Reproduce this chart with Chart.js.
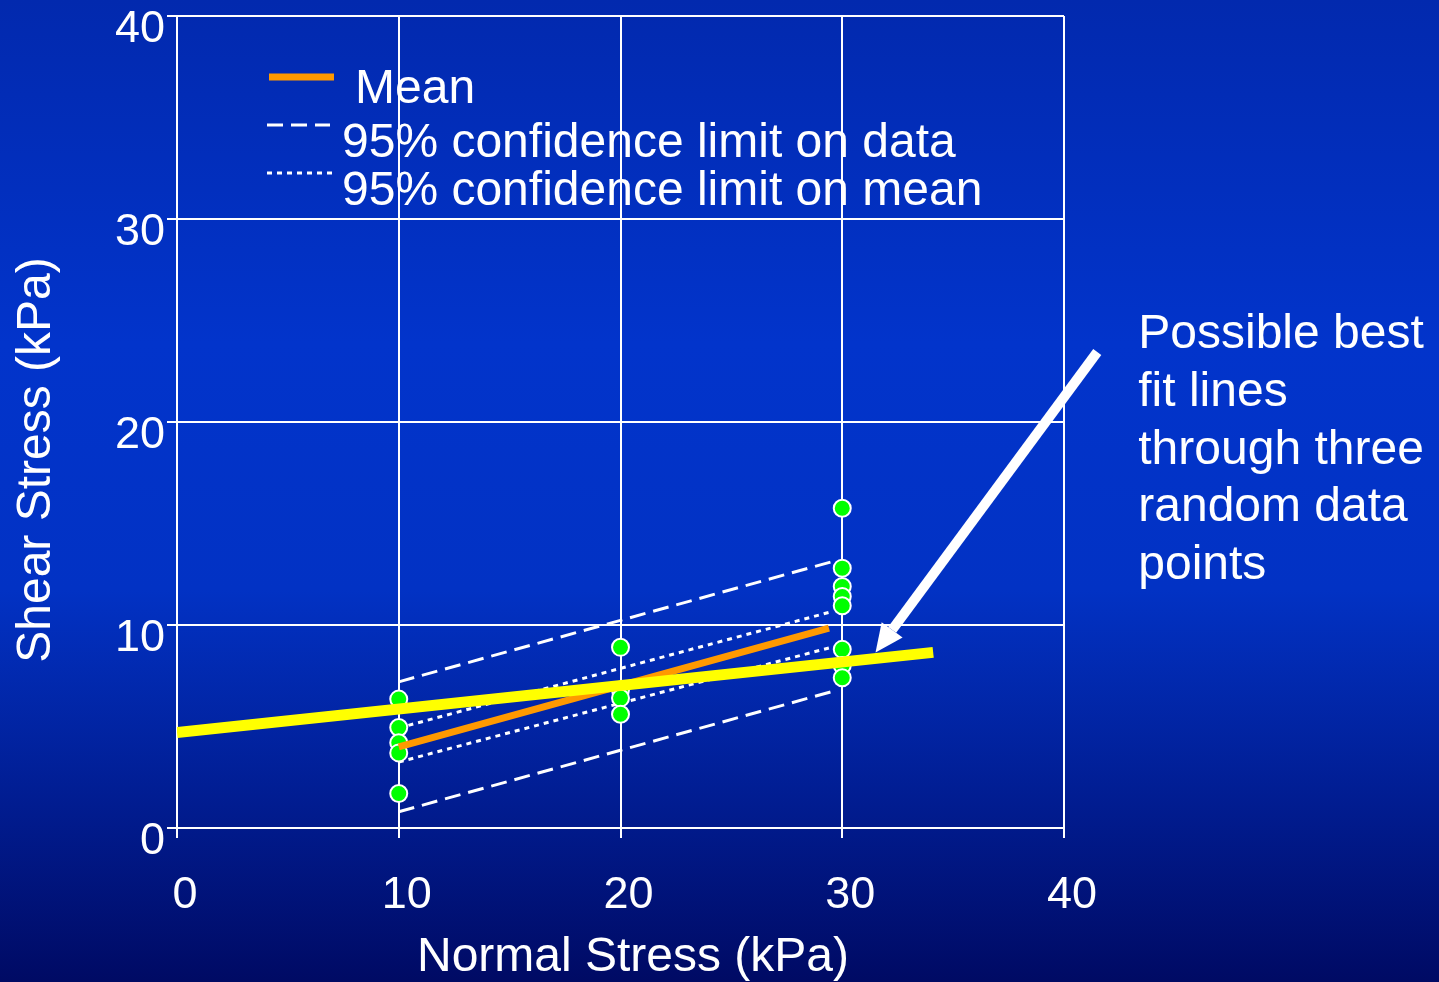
<!DOCTYPE html>
<html lang="en">
<head>
<meta charset="UTF-8"/>
<title>Shear Stress vs Normal Stress</title>
<style>
    html, body {
        margin: 0;
        padding: 0;
        width: 100%;
        height: 100%;
        overflow: hidden;
        background: #0230c0;
    }

    #wrap {
        position: relative;
        width: 1439px;
        height: 982px;
    }
</style>
<script src="https://cdn.jsdelivr.net/npm/chart.js@4/dist/chart.umd.min.js"></script>
</head>
<body>
<div id="wrap"><canvas id="chart"></canvas></div>
<script>
    const FONT = "'Liberation Sans', Arial, Helvetica, sans-serif";

    // Axes
    const xTicks = [0, 10, 20, 30, 40];
    const yTicks = [0, 10, 20, 30, 40];
    const xTitle = 'Normal Stress (kPa)';
    const yTitle = 'Shear Stress (kPa)';

    // Shear test results at each normal stress (kPa)
    const shearAt10 = [6.35, 4.95, 4.2, 3.7, 1.7];
    const shearAt20 = [8.9, 6.8, 6.4, 5.6];
    const shearAt30 = [15.75, 12.8, 11.9, 11.4, 10.95, 8.8, 8.0, 7.4];

    // Mean line
    const meanX = [10, 29.4];
    const meanY = [4.0, 9.85];

    // 95% confidence limit on data (dashed)
    const dataCiX = [10, 29.8];
    const dataUpperY = [7.2, 13.2];
    const dataLowerY = [0.8, 6.8];

    // 95% confidence limit on mean (dotted)
    const meanCiX = [10, 29.5];
    const meanUpperY = [4.93, 10.65];
    const meanLowerY = [3.25, 8.9];

    // One possible best fit line (yellow)
    const fitX = [0, 34.1];
    const fitY = [4.7, 8.65];

    const legendLabels = ['Mean', '95% confidence limit on data', '95% confidence limit on mean'];
    const noteLines = ['Possible best', 'fit lines', 'through three', 'random data', 'points'];
    const arrowFrom = [41.5, 23.45];
    const arrowTo = [31.5, 8.65];

    const toPts = (xs, ys) => xs.map((x, i) => ({x, y: ys[i]}));

    const scatterPts = [
        ...shearAt10.map(y => ({x: 10, y})),
        ...shearAt20.map(y => ({x: 20, y})),
        ...shearAt30.map(y => ({x: 30, y}))
    ];

    function lineSet(label, pts, color, width, dash, order) {
        return {
            type: 'line',
            label,
            data: pts,
            borderColor: color,
            borderWidth: width,
            borderDash: dash,
            borderCapStyle: 'butt',
            pointRadius: 0,
            fill: false,
            tension: 0,
            order
        };
    }

    // Background gradient
    const bgPlugin = {
        id: 'bg',
        beforeDraw(chart) {
            const {ctx, width, height} = chart;
            const g = ctx.createLinearGradient(0, 0, 0, height);
            g.addColorStop(0, '#0229ae');
            g.addColorStop(0.35, '#0234cb');
            g.addColorStop(0.6, '#0232c4');
            g.addColorStop(0.82, '#011c90');
            g.addColorStop(1, '#000a64');
            ctx.save();
            ctx.fillStyle = g;
            ctx.fillRect(0, 0, width, height);
            ctx.restore();
        }
    };

    // Legend inside plot, axis titles, note and arrow
    const decorPlugin = {
        id: 'decor',
        afterDraw(chart) {
            const {ctx, chartArea: a, scales: {x, y}} = chart;
            ctx.save();
            ctx.fillStyle = '#fff';

            // axis titles
            ctx.font = '48px ' + FONT;
            ctx.textAlign = 'center';
            ctx.textBaseline = 'middle';
            ctx.fillText(xTitle, 633, 958);
            ctx.save();
            ctx.translate(37, 460);
            ctx.rotate(-Math.PI / 2);
            ctx.fillText(yTitle, 0, 0);
            ctx.restore();

            // legend
            const rows = [
                {ds: 1, y: a.top + 61, x0: a.left + 92, x1: a.left + 157, tx: a.left + 178, ty: a.top + 87},
                {ds: 3, y: a.top + 109, x0: a.left + 90, x1: a.left + 153, tx: a.left + 165, ty: a.top + 141},
                {ds: 5, y: a.top + 157, x0: a.left + 90, x1: a.left + 158, tx: a.left + 165, ty: a.top + 189}
            ];
            ctx.textAlign = 'left';
            ctx.textBaseline = 'alphabetic';
            ctx.font = '48px ' + FONT;
            rows.forEach((r, i) => {
                const ds = chart.data.datasets[r.ds];
                ctx.save();
                ctx.strokeStyle = ds.borderColor;
                ctx.lineWidth = ds.borderWidth;
                ctx.setLineDash(ds.borderDash || []);
                ctx.beginPath();
                ctx.moveTo(r.x0, r.y);
                ctx.lineTo(r.x1, r.y);
                ctx.stroke();
                ctx.restore();
                ctx.fillText(legendLabels[i], r.tx, r.ty);
            });

            // note
            ctx.font = '48px ' + FONT;
            const nx = x.getPixelForValue(43.35);
            noteLines.forEach((t, i) => ctx.fillText(t, nx, 348 + i * 57.8));

            // arrow
            const x0 = x.getPixelForValue(arrowFrom[0]), y0 = y.getPixelForValue(arrowFrom[1]);
            const x1 = x.getPixelForValue(arrowTo[0]), y1 = y.getPixelForValue(arrowTo[1]);
            const ang = Math.atan2(y1 - y0, x1 - x0);
            const headLen = 28, headW = 13;
            const bx = x1 - headLen * Math.cos(ang), by = y1 - headLen * Math.sin(ang);
            ctx.strokeStyle = '#fff';
            ctx.lineWidth = 10;
            ctx.beginPath();
            ctx.moveTo(x0, y0);
            ctx.lineTo(bx, by);
            ctx.stroke();
            ctx.beginPath();
            ctx.moveTo(x1, y1);
            ctx.lineTo(bx + headW * Math.sin(ang), by - headW * Math.cos(ang));
            ctx.lineTo(bx - headW * Math.sin(ang), by + headW * Math.cos(ang));
            ctx.closePath();
            ctx.fill();
            ctx.restore();
        }
    };

    const ctx = document.getElementById('chart').getContext('2d');
    new Chart(ctx, {
        type: 'scatter',
        data: {
            datasets: [
                lineSet('One best fit', toPts(fitX, fitY), '#ffff00', 11, [], 0),
                lineSet(legendLabels[0], toPts(meanX, meanY), '#ff9900', 7, [], 1),
                {
                    type: 'scatter',
                    label: 'Data',
                    data: scatterPts,
                    pointRadius: 8.5,
                    pointBorderWidth: 2,
                    pointBackgroundColor: '#00ff00',
                    pointBorderColor: '#ffffff',
                    order: 2
                },
                lineSet(legendLabels[1], toPts(dataCiX, dataUpperY), '#ffffff', 3, [16, 8], 3),
                lineSet(legendLabels[1] + ' low', toPts(dataCiX, dataLowerY), '#ffffff', 3, [16, 8], 3),
                lineSet(legendLabels[2], toPts(meanCiX, meanUpperY), '#ffffff', 3, [5, 5], 3),
                lineSet(legendLabels[2] + ' low', toPts(meanCiX, meanLowerY), '#ffffff', 3, [5, 5], 3)
            ]
        },
        options: {
            responsive: true,
            maintainAspectRatio: false,
            animation: false,
            layout: {padding: {top: 16, right: 375, left: 0, bottom: 0}},
            plugins: {
                legend: {display: false},
                tooltip: {enabled: false}
            },
            scales: {
                x: {
                    type: 'linear',
                    min: xTicks[0],
                    max: xTicks[xTicks.length - 1],
                    afterBuildTicks: s => { s.ticks = xTicks.map(v => ({value: v})); },
                    afterFit: s => { s.height = 154; s.paddingLeft = 0; s.paddingRight = 0; },
                    grid: {color: '#ffffff', lineWidth: 2, tickLength: 10, tickColor: '#ffffff'},
                    border: {display: true, color: '#ffffff', width: 2},
                    ticks: {
                        color: '#ffffff',
                        font: {family: FONT, size: 45},
                        padding: 31,
                        labelOffset: 8,
                        maxRotation: 0
                    }
                },
                y: {
                    type: 'linear',
                    min: yTicks[0],
                    max: yTicks[yTicks.length - 1],
                    afterBuildTicks: s => { s.ticks = yTicks.map(v => ({value: v})); },
                    afterFit: s => { s.width = 177; s.paddingTop = 0; s.paddingBottom = 0; },
                    grid: {color: '#ffffff', lineWidth: 2, tickLength: 10, tickColor: '#ffffff'},
                    border: {display: true, color: '#ffffff', width: 2},
                    ticks: {
                        color: '#ffffff',
                        font: {family: FONT, size: 45},
                        padding: 2,
                        labelOffset: 14
                    }
                }
            }
        },
        plugins: [bgPlugin, decorPlugin]
    });
</script>
</body>
</html>
